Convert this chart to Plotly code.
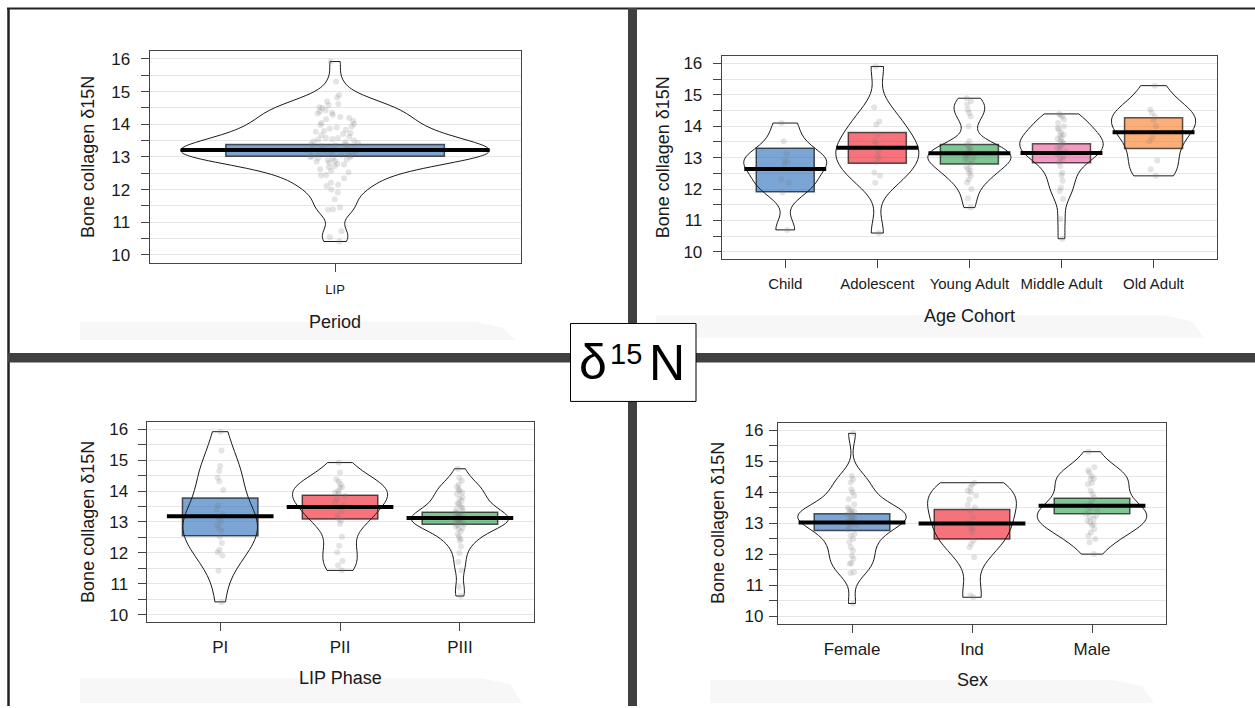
import numpy as np
import plotly.graph_objects as go

W, H = 1255, 708

# ---------------- data: bone collagen d15N (per mil) ----------------
PERIOD_LABELS = ["LIP"]
PERIOD_LIP = [10.41, 10.55, 10.72, 11.38, 11.40, 11.45, 11.70, 11.91, 12.00, 12.11,
              12.15, 12.21, 12.35, 12.43, 12.45, 12.53, 12.58, 12.62, 12.68, 12.72,
              12.77, 12.79, 12.82, 12.85, 12.88, 12.90, 12.92, 12.95, 12.97, 12.99,
              13.00, 13.02, 13.04, 13.06, 13.08, 13.10, 13.12, 13.14, 13.15, 13.17,
              13.18, 13.19, 13.20, 13.22, 13.24, 13.25, 13.27, 13.29, 13.31, 13.33,
              13.35, 13.37, 13.39, 13.42, 13.45, 13.48, 13.50, 13.53, 13.55, 13.58,
              13.59, 13.62, 13.66, 13.70, 13.73, 13.77, 13.79, 13.83, 13.87, 13.90,
              13.93, 13.98, 14.01, 14.04, 14.10, 14.15, 14.19, 14.22, 14.29, 14.33,
              14.35, 14.39, 14.43, 14.50, 14.52, 14.58, 14.62, 14.70, 14.82, 14.90,
              15.31, 15.92]
PERIOD_MEANS = [13.21]
PERIOD_INF_LO = [13.02]
PERIOD_INF_HI = [13.38]

PHASE_LABELS = ["PI", "PII", "PIII"]
PHASE_PI = [15.92, 15.31, 14.81, 14.65, 14.43, 14.31, 14.03, 13.52, 13.40, 13.25,
            13.10, 13.00, 12.90, 12.80, 12.72, 12.52, 12.32, 12.10, 12.02, 11.91,
            11.42, 10.41]
PHASE_PII = [14.92, 14.60, 14.38, 14.30, 14.22, 14.13, 14.10, 14.00, 13.95, 13.92,
             13.84, 13.74, 13.63, 13.55, 13.47, 13.34, 13.20, 13.10, 13.04, 12.93,
             12.52, 12.23, 12.02, 11.73, 11.60, 11.43]
PHASE_PIII = [14.72, 14.43, 14.33, 14.20, 14.13, 14.05, 14.00, 13.95, 13.90, 13.80,
              13.75, 13.68, 13.60, 13.58, 13.50, 13.45, 13.40, 13.36,
              13.30, 13.28, 13.25, 13.20, 13.20, 13.15, 13.12, 13.10, 13.08, 13.05,
              13.02, 13.00, 12.98, 12.95, 12.92, 12.90, 12.85, 12.80,
              12.77, 12.70, 12.60, 12.52, 12.45, 12.39, 12.20, 11.99, 11.70, 11.43,
              10.89, 10.60]
PHASE_MEANS = [13.18, 13.48, 13.13]
PHASE_INF_LO = [12.55, 13.09, 12.92]
PHASE_INF_HI = [13.77, 13.86, 13.31]

AGE_LABELS = ["Child", "Adolescent", "Young Adult", "Middle Adult", "Old Adult"]
AGE_CHILD = [14.10, 13.52, 13.12, 12.91, 12.85, 12.78, 12.31, 12.20, 11.89, 10.70]
AGE_ADOLESCENT = [15.90, 14.60, 14.15, 14.05, 13.73, 13.52, 13.42, 13.20, 13.05, 12.99,
                  12.85, 12.52, 12.42, 12.20, 10.60]
AGE_YOUNG = [14.89, 14.79, 14.68, 14.52, 14.42, 14.31, 14.00, 13.52, 13.42, 13.35,
             13.31, 13.25, 13.20, 13.15, 13.10, 13.05, 13.00, 13.00, 12.95, 12.90,
             12.85, 12.80, 12.70, 12.63, 12.60, 12.50, 12.42, 12.30, 12.21, 12.00,
             11.71, 11.41]
AGE_MIDDLE = [14.39, 14.35, 14.31, 14.21, 14.10, 14.00, 13.94, 13.89, 13.80, 13.73,
              13.70, 13.63, 13.60, 13.52, 13.50, 13.45, 13.40, 13.35, 13.31, 13.26,
              13.20, 13.15, 13.10, 13.05, 12.98, 12.94, 12.85, 12.73, 12.52, 12.44,
              12.26, 12.05, 11.94, 11.68, 11.05, 10.42]
AGE_OLD = [15.29, 14.53, 14.42, 14.31, 14.20, 14.00, 13.63, 13.52, 12.91, 12.63, 12.42]
AGE_MEANS = [12.64, 13.31, 13.14, 13.15, 13.81]
AGE_INF_LO = [11.91, 12.82, 12.80, 12.84, 13.29]
AGE_INF_HI = [13.30, 13.80, 13.42, 13.44, 14.27]

SEX_LABELS = ["Female", "Ind", "Male"]
SEX_FEMALE = [15.90, 14.53, 14.42, 14.32, 14.10, 14.00, 13.89, 13.78, 13.62, 13.51,
              13.45, 13.41, 13.38, 13.35, 13.30, 13.28, 13.25, 13.20, 13.18, 13.14,
              13.10, 13.05, 12.98, 12.95, 12.87, 12.80, 12.66, 12.60, 12.50, 12.39,
              12.23, 12.12, 11.96, 11.86, 11.72, 11.70, 11.43, 11.40, 10.42]
SEX_IND = [14.31, 14.25, 14.16, 14.05, 14.00, 13.89, 13.78, 13.60, 13.51, 13.39,
           13.19, 13.03, 12.87, 12.82, 12.71, 12.44, 12.34, 12.23, 11.91, 10.68, 10.62]
SEX_MALE = [15.31, 14.81, 14.71, 14.64, 14.53, 14.45, 14.42, 14.30, 14.26, 14.05,
            13.95, 13.83, 13.73, 13.62, 13.55, 13.50, 13.41, 13.35, 13.30, 13.25,
            13.20, 13.15, 13.09, 13.03, 12.98, 12.93, 12.82, 12.71, 12.60, 12.50,
            12.39, 12.01]
SEX_MEANS = [13.03, 13.00, 13.57]
SEX_INF_LO = [12.77, 12.50, 13.31]
SEX_INF_HI = [13.31, 13.45, 13.81]

Y_TICKS = [10, 11, 12, 13, 14, 15, 16]
Y_TITLE = "Bone collagen δ15N"

# ---------------- styling ----------------
FONT = "Liberation Sans, Arial, sans-serif"
INK = "#1a1a1a"
BASEL = ["rgba(12,91,176,0.55)", "rgba(238,0,17,0.55)", "rgba(21,152,61,0.55)",
         "rgba(236,87,154,0.6)", "rgba(250,107,9,0.55)"]
BOX_W = 0.63       # inference band width (x units)
AVG_W = 0.89       # mean line width (x units)
Y_RANGE = [9.76, 16.24]


def nrd0(values):
    """Silverman's rule as used by R's density() default."""
    a = np.asarray(values, float)
    sd = a.std(ddof=1)
    q75, q25 = np.percentile(a, [75, 25])
    spread = min(sd, (q75 - q25) / 1.34)
    if spread <= 0:
        spread = sd
    return 0.9 * spread * len(a) ** -0.2


fig = go.Figure()
layout_axes = {}
annotations = []


def px_dom_x(a, b):
    return [a / W, b / W]


def px_dom_y(top, bottom):
    return [1 - bottom / H, 1 - top / H]


def add_panel(n, groups, labels, means, lo, hi, colors, vwidths, xrange, jitter,
              box_px, cat_size, ytitle_x, xtitle, xtitle_y, cat_standoff, y_standoff):
    xa, ya = ("x" if n == 1 else f"x{n}"), ("y" if n == 1 else f"y{n}")
    pos = list(range(1, len(groups) + 1))
    left, top, right, bottom = box_px

    # inference bands
    fig.add_trace(go.Bar(
        x=pos, y=[h - l for l, h in zip(lo, hi)], base=lo, width=[BOX_W] * len(pos),
        marker=dict(color=colors, line=dict(color="rgba(0,0,0,0.65)", width=1.5)),
        xaxis=xa, yaxis=ya, showlegend=False, hoverinfo="skip"))

    # beans + raw points
    for k, vals in enumerate(groups):
        fig.add_trace(go.Violin(
            x0=pos[k], y=vals, xaxis=xa, yaxis=ya, orientation="v",
            width=vwidths[k], scalemode="width", scalegroup=f"p{n}g{k}",
            spanmode="hard", bandwidth=nrd0(vals), side="both",
            line=dict(color=INK, width=1), fillcolor="rgba(255,255,255,0)",
            points="all", pointpos=0, jitter=jitter,
            marker=dict(size=6, color="rgba(120,120,120,0.2)", line=dict(width=0)),
            box=dict(visible=False), meanline=dict(visible=False),
            showlegend=False, hoverinfo="skip"))

    # mean lines
    mx, my = [], []
    for p, m in zip(pos, means):
        mx += [p - AVG_W / 2, p + AVG_W / 2, None]
        my += [m, m, None]
    fig.add_trace(go.Scatter(x=mx, y=my, mode="lines",
                             line=dict(color="black", width=4),
                             xaxis=xa, yaxis=ya, showlegend=False, hoverinfo="skip"))

    key_x = "xaxis" if n == 1 else f"xaxis{n}"
    key_y = "yaxis" if n == 1 else f"yaxis{n}"
    layout_axes[key_x] = dict(
        domain=px_dom_x(left, right), range=xrange, anchor=ya,
        tickmode="array", tickvals=pos, ticktext=labels,
        ticks="outside", ticklen=8, tickwidth=1, tickcolor="#444",
        ticklabelstandoff=cat_standoff,
        tickfont=dict(family=FONT, size=cat_size, color=INK),
        showgrid=False, zeroline=False, showline=True, mirror=True,
        linecolor="#444", linewidth=1, fixedrange=True)
    layout_axes[key_y] = dict(
        domain=px_dom_y(top, bottom), range=Y_RANGE, anchor=xa,
        tickmode="array", tickvals=Y_TICKS,
        ticks="outside", ticklen=8, tickwidth=1, tickcolor="#444",
        ticklabelstandoff=y_standoff,
        tickfont=dict(family=FONT, size=17, color=INK),
        showgrid=True, gridcolor="#e6e6e6", gridwidth=1,
        minor=dict(tickmode="linear", tick0=10, dtick=0.5, ticks="outside",
                   ticklen=8, tickcolor="#444", showgrid=True,
                   gridcolor="#e6e6e6", gridwidth=1),
        zeroline=False, showline=True, mirror=True,
        linecolor="#444", linewidth=1, fixedrange=True)

    cy = (top + bottom) / 2
    annotations.append(dict(text=Y_TITLE, x=ytitle_x / W, y=1 - cy / H,
                            xref="paper", yref="paper", showarrow=False,
                            textangle=-90, xanchor="center", yanchor="middle",
                            font=dict(family=FONT, size=18, color=INK)))
    annotations.append(dict(text=xtitle, x=(left + right) / 2 / W, y=1 - xtitle_y / H,
                            xref="paper", yref="paper", showarrow=False,
                            xanchor="center", yanchor="middle",
                            font=dict(family=FONT, size=18, color=INK)))


add_panel(1, [PERIOD_LIP], PERIOD_LABELS, PERIOD_MEANS, PERIOD_INF_LO, PERIOD_INF_HI,
          [BASEL[0]], [0.89], [0.465, 1.535], 0.2,
          (149.5, 49.4, 520.7, 262.2), 13, 88, "Period", 322, 7, 7)
add_panel(2, [AGE_CHILD, AGE_ADOLESCENT, AGE_YOUNG, AGE_MIDDLE, AGE_OLD], AGE_LABELS,
          AGE_MEANS, AGE_INF_LO, AGE_INF_HI, BASEL[:5],
          [0.90, 0.90, 0.90, 0.905, 0.91], [0.31, 5.69], 0.12,
          (721.7, 54.1, 1217.1, 258.9), 15, 662.7, "Age Cohort", 316, 3, 7)
add_panel(3, [PHASE_PI, PHASE_PII, PHASE_PIII], PHASE_LABELS, PHASE_MEANS,
          PHASE_INF_LO, PHASE_INF_HI, BASEL[:3], [0.62, 0.794, 0.808],
          [0.386, 3.614], 0.12,
          (146.6, 422.2, 533.5, 623.5), 17, 88, "LIP Phase", 680, 2, 6)
add_panel(4, [SEX_FEMALE, SEX_IND, SEX_MALE], SEX_LABELS, SEX_MEANS, SEX_INF_LO,
          SEX_INF_HI, BASEL[:3], [0.90, 0.74, 0.91], [0.3825, 3.6175], 0.12,
          (777.9, 423.2, 1166.1, 625.5), 17, 718.6, "Sex", 682, 2, 2)


# ---------------- page furniture ----------------
def rect(x0, y0, x1, y1, **kw):
    return dict(type="rect", xref="paper", yref="paper",
                x0=x0 / W, x1=x1 / W, y0=1 - y1 / H, y1=1 - y0 / H, **kw)


def shade(x0, y0, x1, y1):
    # faint tab behind each axis caption with a sloped right end
    p = [(x0, y0), (x1 - 40, y0), (x1 - 12, y0 + 6), (x1, y1), (x0, y1)]
    path = "M " + " L ".join(f"{x / W},{1 - y / H}" for x, y in p) + " Z"
    return dict(type="path", xref="paper", yref="paper", path=path,
                fillcolor="#f7f7f7", line=dict(width=0), layer="below")


shapes = [
    shade(80, 321.7, 515, 340),
    shade(656, 315, 1204, 338),
    shade(80, 680, 522, 705),
    shade(710, 682, 1154, 705),
    dict(type="line", xref="paper", yref="paper", x0=7 / W, x1=1,
         y0=1 - 6.5 / H, y1=1 - 6.5 / H, line=dict(color="#222", width=2), layer="above"),
    dict(type="line", xref="paper", yref="paper", x0=8.5 / W, x1=8.5 / W,
         y0=0, y1=1 - 6 / H, line=dict(color="#222", width=2.5), layer="above"),
    rect(628, 6, 637, 708, fillcolor="#404040", line=dict(width=0), layer="above"),
    rect(8, 353, 1255, 362.5, fillcolor="#404040", line=dict(width=0), layer="above"),
    rect(570.5, 323.3, 696, 401.7, fillcolor="white",
         line=dict(color="black", width=1), layer="above"),
]

BADGE_FONT = "Liberation Sans Narrow, Liberation Sans, Arial, sans-serif"
annotations += [
    dict(text="δ", x=593.4 / W, y=1 - 362 / H, xref="paper", yref="paper",
         showarrow=False, xanchor="center", yanchor="middle",
         font=dict(family=BADGE_FONT, size=50, color="black")),
    dict(text="15", x=626 / W, y=1 - 354 / H, xref="paper", yref="paper",
         showarrow=False, xanchor="center", yanchor="middle",
         font=dict(family=BADGE_FONT, size=29, color="black")),
    dict(text="N", x=666.7 / W, y=1 - 363 / H, xref="paper", yref="paper",
         showarrow=False, xanchor="center", yanchor="middle",
         font=dict(family=BADGE_FONT, size=50, color="black")),
]

fig.update_layout(
    width=W, height=H, margin=dict(l=0, r=0, t=0, b=0),
    paper_bgcolor="white", plot_bgcolor="white",
    barmode="overlay", violinmode="overlay",
    font=dict(family=FONT, color=INK),
    shapes=shapes, annotations=annotations, showlegend=False,
    **layout_axes)

fig.write_html("out.html", config=dict(displayModeBar=False))
